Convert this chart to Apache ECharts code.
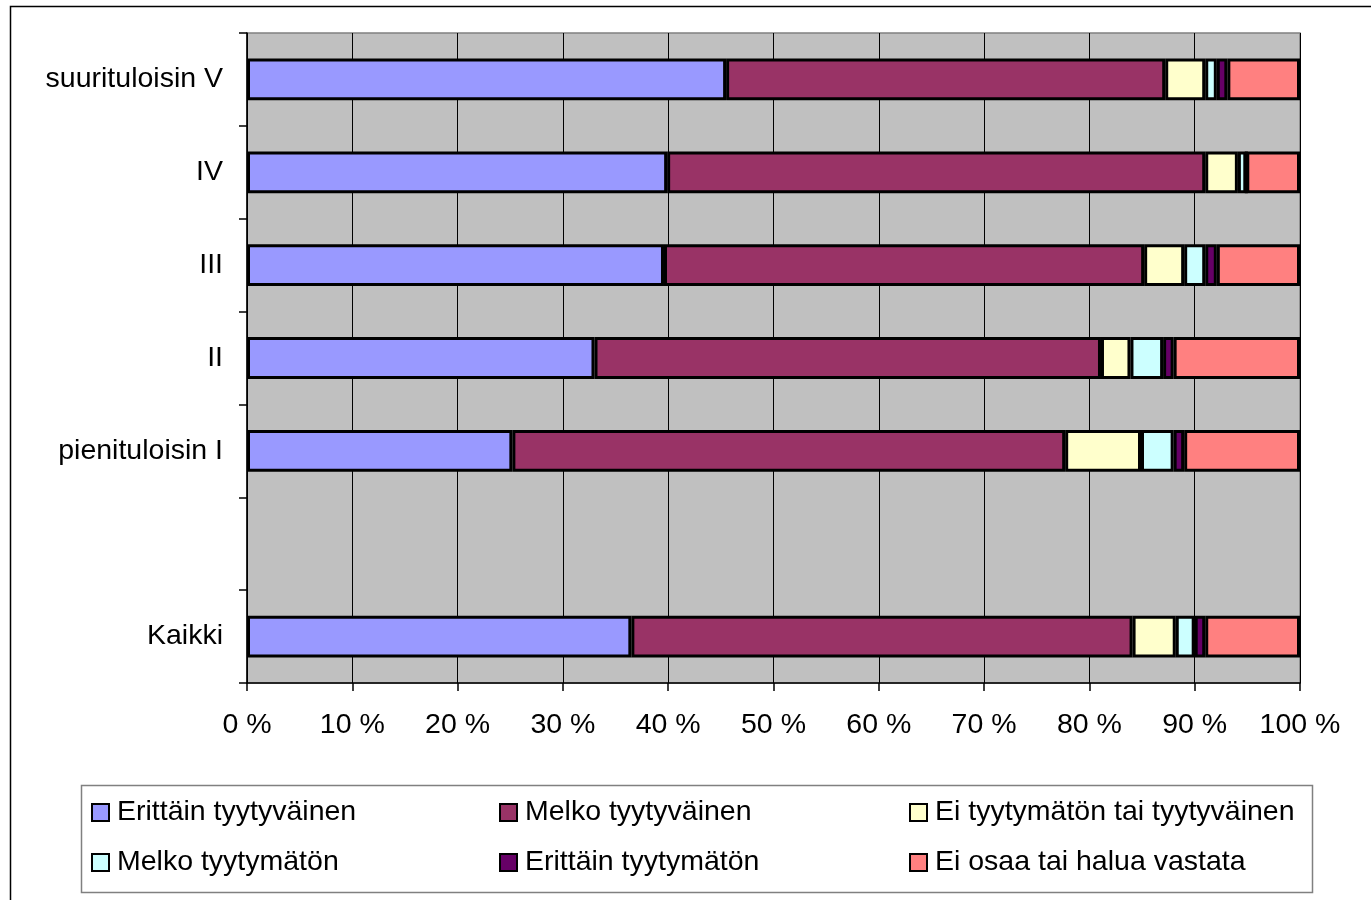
<!DOCTYPE html>
<html>
<head>
<meta charset="utf-8">
<script src="https://cdn.jsdelivr.net/npm/echarts@6/dist/echarts.min.js"></script>
<style>
  html, body { margin: 0; padding: 0; background: #ffffff; }
  #chart { width: 1371px; height: 900px; }
</style>
</head>
<body>
<div id="chart"></div>
<script>
// Income groups (top to bottom); the blank slot separates the total row
const categories = ['suurituloisin V', 'IV', 'III', 'II', 'pienituloisin I', '', 'Kaikki'];

// Share of respondents (%) per answer, one value per category
const erittainTyytyvainen = [45.5, 39.9, 39.6, 33.0, 25.2, null, 36.5];
const melkoTyytyvainen    = [41.7, 51.1, 45.6, 48.1, 52.5, null, 47.6];
const eiTyytymatonTai     = [3.8, 3.1, 3.8, 2.8, 7.2, null, 4.1];
const melkoTyytymaton     = [1.1, 0.8, 2.0, 3.1, 3.1, null, 1.8];
const erittainTyytymaton  = [1.0, 0.0, 1.1, 1.0, 1.0, null, 1.0];
const eiOsaa              = [6.9, 5.1, 7.9, 12.0, 11.0, null, 9.0];

const xTicks = [0, 10, 20, 30, 40, 50, 60, 70, 80, 90, 100];

const seriesDefs = [
  { name: 'Erittäin tyytyväinen', data: erittainTyytyvainen, color: '#9999FF' },
  { name: 'Melko tyytyväinen', data: melkoTyytyvainen, color: '#993366' },
  { name: 'Ei tyytymätön tai tyytyväinen', data: eiTyytymatonTai, color: '#FFFFCC' },
  { name: 'Melko tyytymätön', data: melkoTyytymaton, color: '#CCFFFF' },
  { name: 'Erittäin tyytymätön', data: erittainTyytymaton, color: '#660066' },
  { name: 'Ei osaa tai halua vastata', data: eiOsaa, color: '#FF8080' }
];

const FONT = '"Liberation Sans", Arial, sans-serif';
const FONT_SIZE = 28.5;
const chart = echarts.init(document.getElementById('chart'), null, { renderer: 'canvas' });

const legendCommon = {
  orient: 'vertical',
  itemWidth: 17,
  itemHeight: 17,
  itemGap: 21,
  icon: 'rect',
  selectedMode: false,
  textStyle: { fontFamily: FONT, fontSize: FONT_SIZE, color: '#000000', padding: [0, 0, 0, 3] },
  itemStyle: { borderColor: '#000000', borderWidth: 2 }
};

chart.setOption({
  animation: false,
  backgroundColor: '#ffffff',
  color: seriesDefs.map(s => s.color),
  graphic: [
    { type: 'rect', shape: { x: 10.5, y: 6.5, width: 1400, height: 920 },
      style: { fill: 'none', stroke: '#000000', lineWidth: 1.5 }, z: -10 },
    { type: 'rect', shape: { x: 81.5, y: 785.5, width: 1231, height: 107 },
      style: { fill: '#ffffff', stroke: '#808080', lineWidth: 1.5 }, z: -5 }
  ],
  legend: [
    Object.assign({}, legendCommon, { left: 86, top: 793, data: [seriesDefs[0].name, seriesDefs[3].name] }),
    Object.assign({}, legendCommon, { left: 494, top: 793, data: [seriesDefs[1].name, seriesDefs[4].name] }),
    Object.assign({}, legendCommon, { left: 904, top: 793, data: [seriesDefs[2].name, seriesDefs[5].name] })
  ],
  grid: {
    left: 247, right: 71, top: 33, bottom: 217,
    show: true, backgroundColor: '#C0C0C0', borderColor: '#808080', borderWidth: 1.5,
    containLabel: false
  },
  xAxis: {
    type: 'value',
    min: xTicks[0], max: xTicks[xTicks.length - 1], interval: 10,
    axisLine: { show: true, lineStyle: { color: '#000000', width: 1.5 } },
    axisTick: { show: true, length: 8, lineStyle: { color: '#000000', width: 1.5 } },
    splitLine: { show: true, lineStyle: { color: '#000000', width: 1 } },
    axisLabel: {
      margin: 28, fontFamily: FONT, fontSize: FONT_SIZE, color: '#000000',
      formatter: v => v + ' %'
    }
  },
  yAxis: {
    type: 'category',
    data: categories,
    inverse: true,
    axisLine: { show: true, lineStyle: { color: '#000000', width: 1.5 } },
    axisTick: { show: true, length: 8, lineStyle: { color: '#000000', width: 1.5 } },
    axisLabel: { margin: 24, fontFamily: FONT, fontSize: FONT_SIZE, color: '#000000' }
  },
  series: seriesDefs.map(s => ({
    name: s.name,
    type: 'bar',
    stack: 'total',
    data: s.data,
    barWidth: '45%',
    itemStyle: { color: s.color, borderColor: '#000000', borderWidth: 3 }
  }))
});
</script>
</body>
</html>
